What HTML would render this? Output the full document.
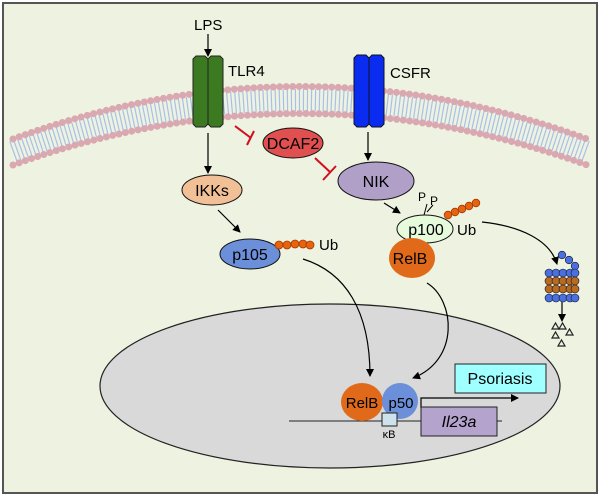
<!DOCTYPE html><html><head><style>body{margin:0}svg{display:block}text{font-family:"Liberation Sans",sans-serif}</style></head><body>
<svg width="600" height="496" viewBox="0 0 600 496" xmlns="http://www.w3.org/2000/svg">
<defs><marker id="a" markerWidth="8" markerHeight="8" refX="7" refY="4" orient="auto" markerUnits="userSpaceOnUse"><path d="M0,0L8,4L0,8z" fill="#000"/></marker></defs>
<rect x="3" y="3" width="594" height="490" fill="#eef2e0" stroke="#555" stroke-width="2"/>
<path d="M13,152 Q300,48 587,152" fill="none" stroke="#a8c0e8" stroke-width="22" stroke-dasharray="1.2 2.8"/>
<path d="M13,139 Q300,34 587,139" fill="none" stroke="#d9a8b0" stroke-width="7" stroke-linecap="round" stroke-dasharray="0 6.5"/>
<path d="M13,165 Q300,62 587,165" fill="none" stroke="#d9a8b0" stroke-width="7" stroke-linecap="round" stroke-dasharray="0 6.5"/>
<ellipse cx="330" cy="386" rx="230" ry="82" fill="#d9d9d9" stroke="#222" stroke-width="1.2"/>
<text x="194" y="30" font-size="15">LPS</text>
<line x1="208" y1="34" x2="208" y2="56" stroke="#000" stroke-width="1.2" marker-end="url(#a)"/>
<path d="M193,59l3,-3h9l3,3v65l-3,3h-9l-3,-3z" fill="#3c7a22" stroke="#222"/>
<path d="M208,59l3,-3h9l3,3v65l-3,3h-9l-3,-3z" fill="#3c7a22" stroke="#222"/>
<text x="228" y="76" font-size="15">TLR4</text>
<path d="M354,58l3,-3h9l3,3v66l-3,3h-9l-3,-3z" fill="#0a2cf0" stroke="#112"/>
<path d="M369,58l3,-3h9l3,3v66l-3,3h-9l-3,-3z" fill="#0a2cf0" stroke="#112"/>
<text x="390" y="78" font-size="15">CSFR</text>
<line x1="208" y1="133" x2="208" y2="173" stroke="#000" stroke-width="1.2" marker-end="url(#a)"/>
<ellipse cx="212" cy="190" rx="30" ry="15" fill="#f2c097" stroke="#111"/>
<text x="212" y="196" font-size="16" text-anchor="middle">IKKs</text>
<line x1="235" y1="126" x2="251" y2="138" stroke="#d01020" stroke-width="2"/><line x1="247" y1="145" x2="254" y2="131" stroke="#d01020" stroke-width="2"/>
<ellipse cx="293" cy="143" rx="30" ry="15" fill="#e05050" stroke="#111"/>
<text x="293" y="149" font-size="16" text-anchor="middle">DCAF2</text>
<line x1="315" y1="158" x2="330" y2="172" stroke="#d01020" stroke-width="2"/><line x1="323" y1="180" x2="336" y2="166" stroke="#d01020" stroke-width="2"/>
<line x1="368" y1="132" x2="368" y2="160" stroke="#000" stroke-width="1.2" marker-end="url(#a)"/>
<ellipse cx="376" cy="181" rx="38" ry="19" fill="#b0a0c8" stroke="#111"/>
<text x="376" y="187" font-size="16" text-anchor="middle">NIK</text>
<line x1="218" y1="210" x2="240" y2="232" stroke="#000" stroke-width="1.2" marker-end="url(#a)"/>
<ellipse cx="250" cy="254" rx="30" ry="15" fill="#6b8fd8" stroke="#111"/>
<text x="250" y="260" font-size="16" text-anchor="middle">p105</text>
<g fill="#e8620f" stroke="#a03a00" stroke-width=".8"><circle cx="279" cy="245" r="4"/><circle cx="287" cy="245" r="4"/><circle cx="295" cy="244" r="4"/><circle cx="303" cy="244" r="4"/><circle cx="310" cy="245" r="4"/>
<circle cx="448" cy="215" r="3.8"/><circle cx="455" cy="212" r="3.8"/><circle cx="462" cy="209" r="3.8"/><circle cx="469" cy="206" r="3.8"/><circle cx="476" cy="203" r="3.8"/></g>
<text x="319" y="250" font-size="15">Ub</text>
<line x1="384" y1="203" x2="400" y2="213" stroke="#000" stroke-width="1.2" marker-end="url(#a)"/>
<ellipse cx="425" cy="229" rx="28" ry="14" fill="#e6fadc" stroke="#111"/>
<text x="426" y="235" font-size="16" text-anchor="middle">p100</text>
<text x="418" y="201" font-size="12">P</text><text x="430" y="205" font-size="12">P</text>
<path d="M424,215l3,-11M427,212l6,-7" stroke="#000"/>
<text x="457" y="235" font-size="15">Ub</text>
<ellipse cx="412" cy="258" rx="23" ry="20" fill="#e06a1a"/>
<text x="410" y="264" font-size="16" text-anchor="middle">RelB</text>
<path d="M482,222 C520,226 550,240 557,264" fill="none" stroke="#000" stroke-width="1.2" marker-end="url(#a)"/>
<g stroke="#112" stroke-width=".6"><g fill="#4a70e0"><circle cx="562" cy="255" r="3.8"/><circle cx="569" cy="260" r="3.8"/><circle cx="575" cy="266" r="3.8"/>
<circle cx="549" cy="273" r="4"/><circle cx="556" cy="273" r="4"/><circle cx="563" cy="273" r="4"/><circle cx="570" cy="273" r="4"/><circle cx="575" cy="273" r="4"/>
<circle cx="549" cy="298" r="4"/><circle cx="556" cy="298" r="4"/><circle cx="563" cy="298" r="4"/><circle cx="570" cy="298" r="4"/><circle cx="575" cy="298" r="4"/></g>
<g fill="#b86a20"><circle cx="549" cy="281" r="4"/><circle cx="556" cy="281" r="4"/><circle cx="563" cy="281" r="4"/><circle cx="570" cy="281" r="4"/><circle cx="575" cy="281" r="4"/>
<circle cx="549" cy="289" r="4"/><circle cx="556" cy="289" r="4"/><circle cx="563" cy="289" r="4"/><circle cx="570" cy="289" r="4"/><circle cx="575" cy="289" r="4"/></g></g>
<line x1="562" y1="302" x2="562" y2="321" stroke="#000" stroke-width="1.2" marker-end="url(#a)"/>
<g fill="none" stroke="#222" stroke-width="1.2"><path d="M552,329l3.5,-6l3.5,6z"/><path d="M559,329l3.5,-6l3.5,6z"/><path d="M552,338l3.5,-6l3.5,6z"/><path d="M566,335l3.5,-6l3.5,6z"/><path d="M558,346l3.5,-6l3.5,6z"/></g>
<path d="M303,259 C345,272 370,310 370,376" fill="none" stroke="#000" stroke-width="1.2" marker-end="url(#a)"/>
<path d="M427,283 C455,300 460,360 413,378" fill="none" stroke="#000" stroke-width="1.2" marker-end="url(#a)"/>
<line x1="289" y1="421" x2="502" y2="421" stroke="#222"/>
<rect x="455" y="364" width="91" height="29" fill="#a0ffff" stroke="#222"/>
<text x="500" y="384" font-size="16" text-anchor="middle">Psoriasis</text>
<path d="M421,408V398H518" fill="none" stroke="#000" stroke-width="1.2" marker-end="url(#a)"/>
<rect x="421" y="407" width="76" height="29" fill="#b4a3cc" stroke="#222"/>
<text x="459" y="427" font-size="16" font-style="italic" text-anchor="middle">Il23a</text>
<ellipse cx="362" cy="402" rx="21" ry="19" fill="#e06a1a"/>
<circle cx="400" cy="401" r="18" fill="#6b8fd8"/>
<text x="362" y="408" font-size="15" text-anchor="middle">RelB</text>
<text x="401" y="408" font-size="15" text-anchor="middle">p50</text>
<rect x="382" y="413" width="15" height="13" fill="#cde2ea" stroke="#222"/>
<text x="389" y="438" font-size="11" text-anchor="middle">κB</text>
</svg></body></html>
